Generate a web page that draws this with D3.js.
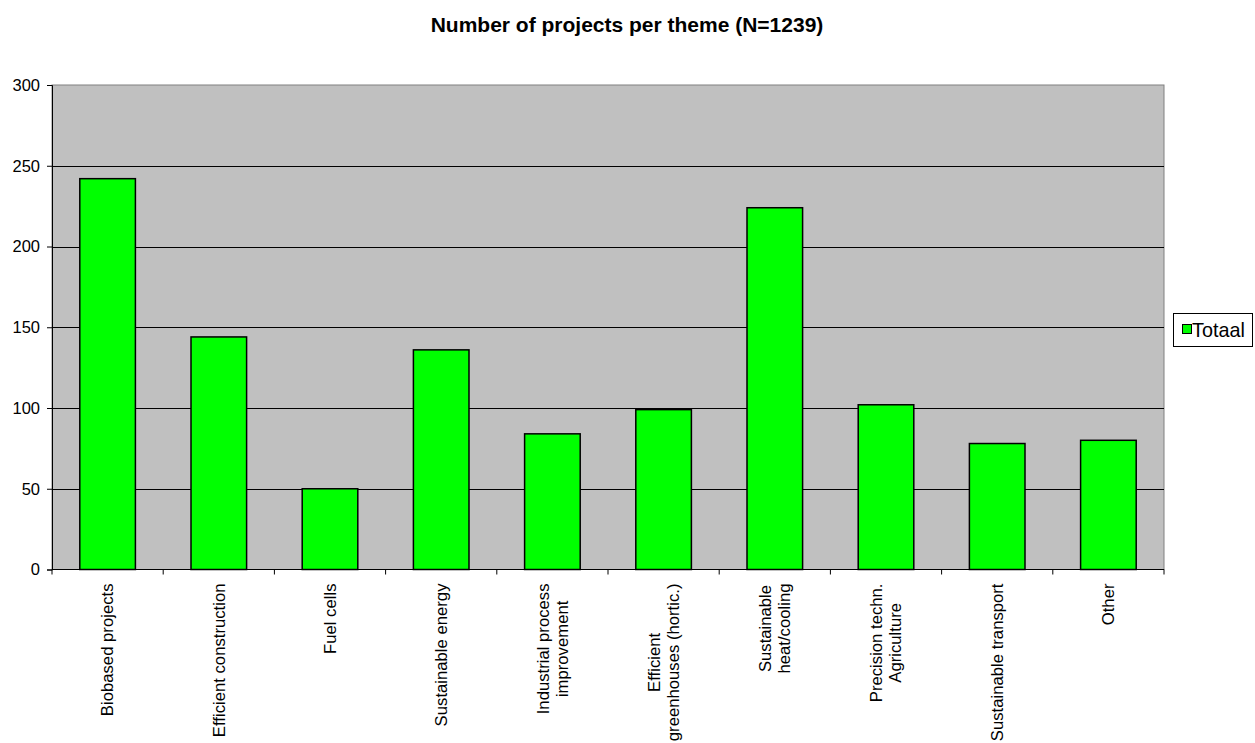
<!DOCTYPE html>
<html>
<head>
<meta charset="utf-8">
<script src="https://cdn.jsdelivr.net/npm/d3@7"></script>
<style>
  html, body { margin: 0; padding: 0; background: #fff; }
  svg { display: block; font-family: Arial, "Liberation Sans", sans-serif; }
</style>
</head>
<body>
<svg id="chart" width="1255" height="743"></svg>
<script>
// Project themes (each label line is one entry)
const categories = [
  ["Biobased projects"],
  ["Efficient construction"],
  ["Fuel cells"],
  ["Sustainable energy"],
  ["Industrial process", "improvement"],
  ["Efficient", "greenhouses (hortic.)"],
  ["Sustainable", "heat/cooling"],
  ["Precision techn.", "Agriculture"],
  ["Sustainable transport"],
  ["Other"]
];
const totals = [242, 144, 50, 136, 84, 99, 224, 102, 78, 80];
const yTicks = [0, 50, 100, 150, 200, 250, 300];
const seriesName = "Totaal";
const chartTitle = "Number of projects per theme (N=1239)";

const svg = d3.select("#chart");
const plot = { left: 52, right: 1164, top: 85, bottom: 569.5 };
const keys = categories.map((c, i) => i);

const x = d3.scaleBand().domain(keys).range([plot.left, plot.right]).paddingInner(0.5).paddingOuter(0.25);
const xEdge = d3.scaleBand().domain(keys).range([plot.left, plot.right]);
const y = d3.scaleLinear().domain([0, 300]).range([plot.bottom, plot.top]);

// title
svg.append("text")
  .attr("x", 627).attr("y", 32)
  .attr("text-anchor", "middle")
  .attr("font-weight", "bold").attr("font-size", 21)
  .text(chartTitle);

// plot background
svg.append("rect")
  .attr("x", plot.left).attr("y", plot.top)
  .attr("width", plot.right - plot.left).attr("height", plot.bottom - plot.top)
  .attr("fill", "#c0c0c0").attr("stroke", "#808080").attr("stroke-width", 1);

// gridlines
svg.append("g").selectAll("line")
  .data(yTicks.filter(d => d > 0 && d < 300))
  .join("line")
  .attr("x1", plot.left).attr("x2", plot.right)
  .attr("y1", d => Math.round(y(d)) + 0.5).attr("y2", d => Math.round(y(d)) + 0.5)
  .attr("stroke", "#000").attr("stroke-width", 1);

// bars
svg.append("g").selectAll("rect")
  .data(totals)
  .join("rect")
  .attr("x", (d, i) => x(i))
  .attr("y", d => y(d))
  .attr("width", x.bandwidth())
  .attr("height", d => y(0) - y(d))
  .attr("fill", "#00ff00")
  .attr("stroke", "#000").attr("stroke-width", 1.5);

// y axis
const yAxis = svg.append("g")
  .attr("transform", `translate(${plot.left},0)`)
  .call(d3.axisLeft(y).tickValues(yTicks).tickSize(5).tickPadding(7).tickFormat(d3.format("d")));
yAxis.selectAll("text").attr("font-size", 16.5).attr("fill", "#000").attr("font-family", "Arial, 'Liberation Sans', sans-serif");
yAxis.select(".domain").attr("stroke", "#000");
yAxis.selectAll(".tick line").attr("stroke", "#000");

// x axis: line and boundary ticks between categories
const xg = svg.append("g");
xg.append("line")
  .attr("x1", plot.left).attr("x2", plot.right)
  .attr("y1", plot.bottom).attr("y2", plot.bottom)
  .attr("stroke", "#000");
const edges = keys.map(i => xEdge(i)).concat([plot.right]);
xg.selectAll("line.tk").data(edges).join("line")
  .attr("class", "tk")
  .attr("x1", d => d).attr("x2", d => d)
  .attr("y1", plot.bottom).attr("y2", plot.bottom + 5)
  .attr("stroke", "#000");

// category labels, rotated, lines centered on each other
const lineGap = 19;
const labelFont = 16.7;
const measurer = svg.append("text").attr("font-size", labelFont).attr("visibility", "hidden");
function textWidth(s) { measurer.text(s); return measurer.node().getComputedTextLength(); }

categories.forEach((lines, i) => {
  const cx = x(i) + x.bandwidth() / 2;
  const maxLen = d3.max(lines, textWidth);
  const top = plot.bottom + 14;
  const midY = top + maxLen / 2;
  const n = lines.length;
  const g = svg.append("g").attr("transform", `translate(${cx},${midY}) rotate(-90)`);
  lines.forEach((ln, j) => {
    g.append("text")
      .attr("x", 0)
      .attr("y", (j - (n - 1) / 2) * lineGap)
      .attr("dy", "0.35em")
      .attr("text-anchor", "middle")
      .attr("font-size", labelFont)
      .text(ln);
  });
});
measurer.remove();

// legend
const lg = svg.append("g").attr("transform", "translate(1173,313)");
lg.append("rect").attr("x", 0.5).attr("y", 0.5).attr("width", 79).attr("height", 33)
  .attr("fill", "#fff").attr("stroke", "#000");
lg.append("rect").attr("x", 9.5).attr("y", 11.5).attr("width", 9).attr("height", 9)
  .attr("fill", "#00ff00").attr("stroke", "#000");
lg.append("text").attr("x", 19).attr("y", 24).attr("font-size", 19.8).text(seriesName);
</script>
</body>
</html>
